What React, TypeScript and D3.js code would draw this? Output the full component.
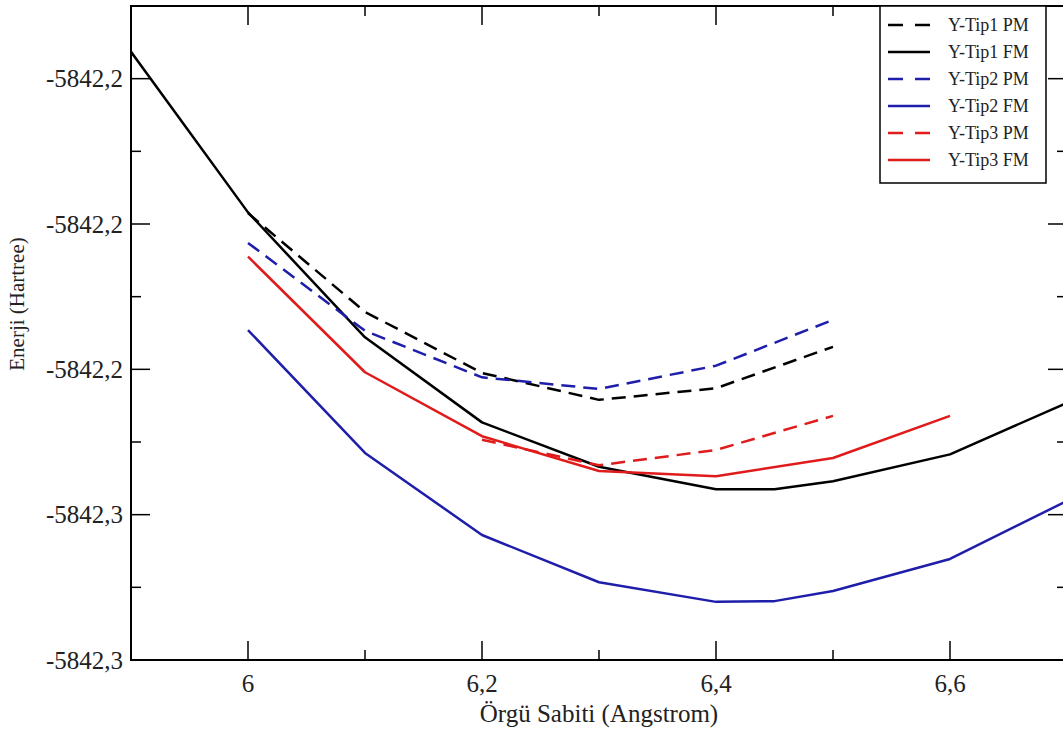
import React from "react";
import * as d3 from "d3";

const W = 1063;
const H = 738;

// axis domain and ticks
const xDomain = [5.9, 6.7];
const yDomain = [-5842.28, -5842.19];
const xMajor = [6.0, 6.2, 6.4, 6.6];
const xLabels = ["6", "6,2", "6,4", "6,6"];
const xMinor = [6.1, 6.3, 6.5];
const yMajor = [-5842.28, -5842.26, -5842.24, -5842.22, -5842.2];
const yLabels = ["-5842,3", "-5842,3", "-5842,2", "-5842,2", "-5842,2"];
const yMinor = [-5842.27, -5842.25, -5842.23, -5842.21];

// series (x = lattice constant, y = energy)
const tip1PM: [number, number][] = [
  [6.0, -5842.2185], [6.1, -5842.2321], [6.2, -5842.2405],
  [6.3, -5842.2442], [6.4, -5842.2426], [6.5, -5842.2369],
];
const tip1FM: [number, number][] = [
  [5.9, -5842.1963], [6.0, -5842.2184], [6.1, -5842.2356], [6.2, -5842.2473],
  [6.3, -5842.2534], [6.4, -5842.2565], [6.45, -5842.2565], [6.5, -5842.2554],
  [6.6, -5842.2517], [6.7, -5842.2446],
];
const tip2PM: [number, number][] = [
  [6.0, -5842.2226], [6.1, -5842.2347], [6.2, -5842.2411],
  [6.3, -5842.2427], [6.4, -5842.2395], [6.5, -5842.2332],
];
const tip2FM: [number, number][] = [
  [6.0, -5842.2346], [6.1, -5842.2515], [6.2, -5842.2628], [6.3, -5842.2693],
  [6.4, -5842.272], [6.45, -5842.2719], [6.5, -5842.2705], [6.6, -5842.2661],
  [6.7, -5842.2581],
];
const tip3PM: [number, number][] = [
  [6.2, -5842.2497], [6.3, -5842.2532], [6.4, -5842.2511], [6.5, -5842.2464],
];
const tip3FM: [number, number][] = [
  [6.0, -5842.2245], [6.1, -5842.2404], [6.2, -5842.2492], [6.3, -5842.254],
  [6.4, -5842.2547], [6.5, -5842.2522], [6.6, -5842.2464],
];

const seriesNames = ["Y-Tip1 PM", "Y-Tip1 FM", "Y-Tip2 PM", "Y-Tip2 FM", "Y-Tip3 PM", "Y-Tip3 FM"];
const seriesData = [tip1PM, tip1FM, tip2PM, tip2FM, tip3PM, tip3FM];
const seriesColors = ["#000000", "#000000", "#1e1eaa", "#1e1eaa", "#e01b1b", "#e01b1b"];
const seriesDashed = [true, false, true, false, true, false];

const L = 131, R = 1067, T = 6, B = 660;
const FONT = "'Liberation Serif', 'DejaVu Serif', serif";

export default function App() {
  const x = d3.scaleLinear().domain(xDomain).range([L, R]);
  const y = d3.scaleLinear().domain(yDomain).range([B, T]);
  const line = d3.line<[number, number]>().x((d) => x(d[0])).y((d) => y(d[1]));

  const legX = 880, legY = T, legW = 166, legH = 177;
  const rowY = (i: number) => legY + 19 + i * 27;

  return (
    <svg width={W} height={H} style={{ position: "absolute", left: 0, top: 0, background: "#fff" }}>
      <defs>
        <clipPath id="plot">
          <rect x={L} y={T} width={R - L} height={B - T} />
        </clipPath>
      </defs>
      <rect x={0} y={0} width={W} height={H} fill="#fff" />

      {/* curves */}
      <g clipPath="url(#plot)">
        {seriesData.map((d, i) => (
          <path
            key={i}
            d={line(d) || ""}
            fill="none"
            stroke={seriesColors[i]}
            strokeWidth={2.5}
            strokeDasharray={seriesDashed[i] ? "14,8" : undefined}
            strokeLinejoin="round"
          />
        ))}
      </g>

      {/* frame */}
      <rect x={L} y={T} width={R - L} height={B - T} fill="none" stroke="#000" strokeWidth={2} />

      {/* x ticks bottom & top */}
      {xMajor.map((v, i) => (
        <g key={"xm" + i}>
          <line x1={x(v)} x2={x(v)} y1={B} y2={B - 19} stroke="#000" strokeWidth={1.5} />
          <line x1={x(v)} x2={x(v)} y1={T} y2={T + 19} stroke="#000" strokeWidth={1.5} />
          <text x={x(v)} y={692} textAnchor="middle" fontFamily={FONT} fontSize={25} fill="#222">
            {xLabels[i]}
          </text>
        </g>
      ))}
      {xMinor.map((v, i) => (
        <g key={"xn" + i}>
          <line x1={x(v)} x2={x(v)} y1={B} y2={B - 10} stroke="#000" strokeWidth={1.5} />
          <line x1={x(v)} x2={x(v)} y1={T} y2={T + 10} stroke="#000" strokeWidth={1.5} />
        </g>
      ))}

      {/* y ticks left & right */}
      {yMajor.map((v, i) => (
        <g key={"ym" + i}>
          <line x1={L} x2={L + 19} y1={y(v)} y2={y(v)} stroke="#000" strokeWidth={1.5} />
          <line x1={R} x2={R - 19} y1={y(v)} y2={y(v)} stroke="#000" strokeWidth={1.5} />
          <text x={123} y={y(v)} dy="0.35em" textAnchor="end" fontFamily={FONT} fontSize={25} fill="#222">
            {yLabels[i]}
          </text>
        </g>
      ))}
      {yMinor.map((v, i) => (
        <g key={"yn" + i}>
          <line x1={L} x2={L + 10} y1={y(v)} y2={y(v)} stroke="#000" strokeWidth={1.5} />
          <line x1={R} x2={R - 10} y1={y(v)} y2={y(v)} stroke="#000" strokeWidth={1.5} />
        </g>
      ))}

      {/* axis titles */}
      <text x={(L + R) / 2} y={722} textAnchor="middle" fontFamily={FONT} fontSize={25} fill="#222">
        Örgü Sabiti (Angstrom)
      </text>
      <text
        transform={`translate(24, 304) rotate(-90)`}
        textAnchor="middle"
        fontFamily={FONT}
        fontSize={21}
        fill="#222"
      >
        Enerji (Hartree)
      </text>

      {/* legend */}
      <rect x={legX} y={legY} width={legW} height={legH} fill="#fff" stroke="#000" strokeWidth={1.5} />
      {seriesNames.map((n, i) => (
        <g key={"lg" + i}>
          <line
            x1={888}
            x2={930}
            y1={rowY(i)}
            y2={rowY(i)}
            stroke={seriesColors[i]}
            strokeWidth={2.5}
            strokeDasharray={seriesDashed[i] ? "15,12" : undefined}
          />
          <text x={948} y={rowY(i)} dy="0.35em" fontFamily={FONT} fontSize={18} fill="#222">
            {n}
          </text>
        </g>
      ))}
    </svg>
  );
}
